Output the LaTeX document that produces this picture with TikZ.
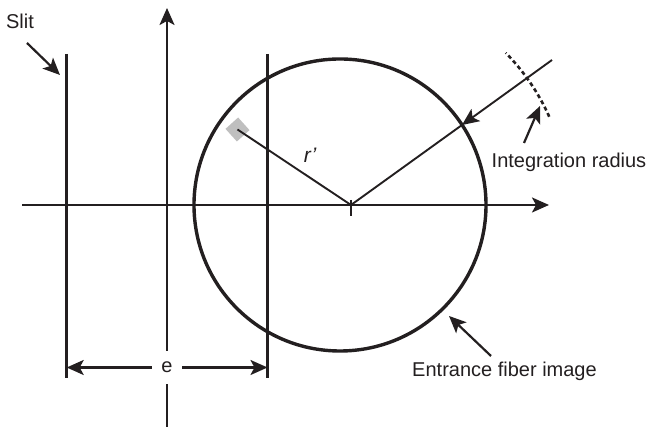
\documentclass[tikz,border=0pt]{standalone}
\usepackage{fontspec}
\setmainfont{Liberation Sans}
\usepackage{tikz}
\usetikzlibrary{arrows.meta,positioning,calc}
\definecolor{ink}{RGB}{35,31,32}
\tikzset{
  arr/.style={-{Stealth[length=17pt,width=15pt,inset=4pt]}},
  lbl/.style={font=\fontsize{20}{24}\selectfont, text=ink, inner sep=0pt},
}

\begin{document}
\begin{tikzpicture}[x=1pt, y=1pt, ink]
    \useasboundingbox (0,0) rectangle (651,427);

    % Axes
    \coordinate (xa) at (22,222);
    \coordinate (xb) at (549,222);
    \coordinate (ya) at (167,0);
    \coordinate (yb) at (167,419);
    \draw[arr, line width=2.2pt] (xa) -- (xb);
    \draw[arr, line width=2.2pt] (ya) -- (yb);

    % Slit
    \coordinate (s1t) at (66.7,373);
    \coordinate (s1b) at (66.7,49);
    \coordinate (s2t) at (267.5,373);
    \coordinate (s2b) at (267.5,49);
    \draw[line width=2.6pt] (s1t) -- (s1b);
    \draw[line width=2.6pt] (s2t) -- (s2b);

    % Fiber image
    \node[draw, circle, line width=3.4pt, minimum size=292pt, inner sep=0pt] (fib) at (340,222) {};

    % Origin
    \coordinate (O) at (351,222);
    \coordinate (Ot) at (351,227);
    \coordinate (Ob) at (351,211);
    \draw[line width=1.8pt] (Ot) -- (Ob);

    % Pixel and r'
    \node[fill=gray!50, draw=none, minimum size=17pt, inner sep=0pt, rotate=42] (pix) at (237.5,297.5) {};
    \draw[line width=1.9pt] (pix.center) -- (O);
    \node[lbl, font=\fontsize{21}{24}\selectfont\itshape] (rp) at (310,272) {r’};

    % Integration radius
    \coordinate (far) at (552,367);
    \coordinate (rim) at (462,302);
    \draw[arr, line width=1.9pt] (far) -- (rim);
    \draw[line width=1.9pt] (rim) -- (O);
    \draw[line width=2.6pt, dash pattern=on 4pt off 3pt] ($(O)+(24:217)$) arc (24:44.5:217);
    \node[lbl, anchor=base] (irad) at (569,259.7) {Integration radius};
    \coordinate (arcpt) at (540,321);
    \draw[arr, line width=2.2pt] (524,284) -- (arcpt);

    % Labels with arrows
    \node[lbl, anchor=base] (slit) at (20,398) {Slit};
    \coordinate (slitpt) at (60,352);
    \draw[arr, line width=2.2pt] (27,384) -- (slitpt);

    \node[lbl, anchor=base] (ent) at (504.5,50) {Entrance fiber image};
    \coordinate (entpt) at (449,111);
    \draw[arr, line width=2.2pt] (491,71) -- (entpt);

    % Width e
    \node[lbl, fill=white, minimum width=30pt, minimum height=33pt] (e) at (167,59.5) {e};
    \coordinate (el) at (66.7,59.5);
    \coordinate (er) at (267.5,59.5);
    \draw[arr, line width=2.2pt] (e) -- (el);
    \draw[arr, line width=2.2pt] (e) -- (er);
\end{tikzpicture}
\end{document}
